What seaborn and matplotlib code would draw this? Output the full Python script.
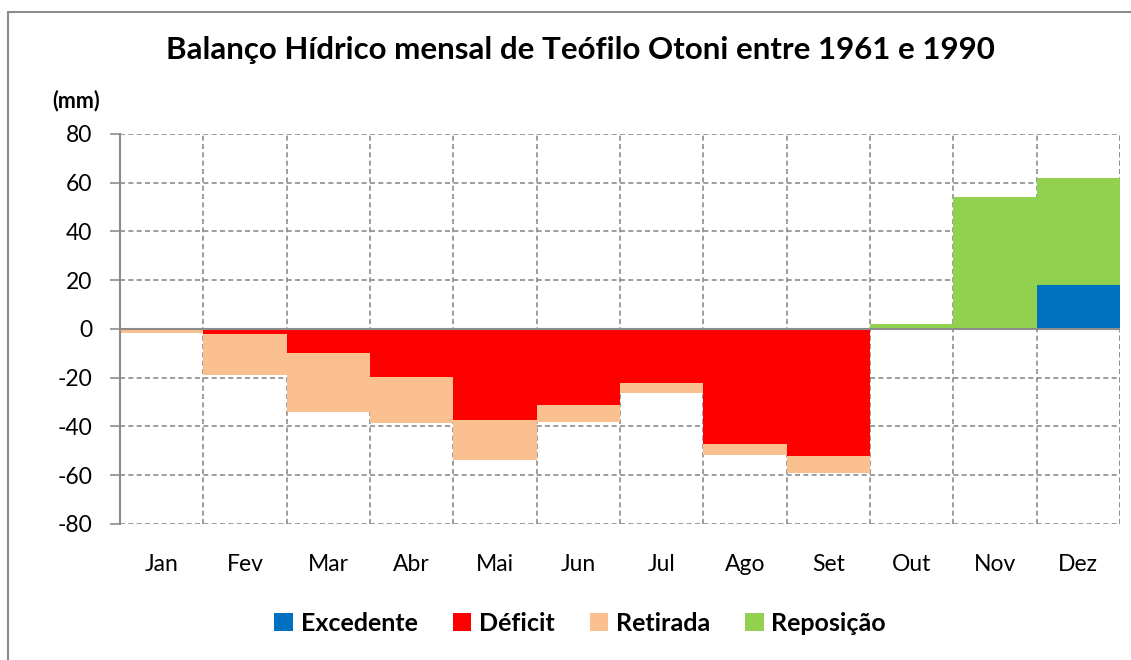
import numpy as np
import pandas as pd
import matplotlib
matplotlib.use("Agg")
import matplotlib.pyplot as plt
import seaborn as sns
from matplotlib.patches import Patch
from matplotlib.lines import Line2D

# Dados do balanço hídrico (mm)
meses = ["Jan", "Fev", "Mar", "Abr", "Mai", "Jun", "Jul", "Ago", "Set", "Out", "Nov", "Dez"]
excedente = [0, 0, 0, 0, 0, 0, 0, 0, 0, 0, 0, 18]
deficit = [-0.3, -2, -10, -19.5, -37.5, -31, -22, -47.3, -52, 0, 0, 0]
retirada = [-1.5, -17, -24, -19, -16.2, -7, -4.2, -4.2, -7, 0, 0, 0]
reposicao = [0, 0, 0, 0, 0, 0, 0, 0, 0, 2, 54, 44]

cores = {"Excedente": "#0070C0", "Déficit": "#FF0000",
         "Retirada": "#FAC090", "Reposição": "#92D050"}

sns.set_style("white")
plt.rcParams["font.family"] = ["Lato", "DejaVu Sans"]
plt.rcParams["axes.unicode_minus"] = False
plt.rcParams["text.color"] = "black"
plt.rcParams["xtick.color"] = "black"
plt.rcParams["ytick.color"] = "black"

df = pd.DataFrame({"mes": meses, "excedente": excedente, "deficit": deficit,
                   "retirada": retirada, "reposicao": reposicao})
df["neg_total"] = df["deficit"] + df["retirada"]
df["pos_total"] = df["excedente"] + df["reposicao"]

fig = plt.figure(figsize=(11.31, 6.6), dpi=100)
ax = fig.add_axes([0.1061, 0.2061, 0.8841, 0.5909])

# barras empilhadas (sobrepostas do total para a parte interna)
bar_kw = dict(width=1, saturation=1, ax=ax, zorder=2, linewidth=0, edgecolor="none")
sns.barplot(data=df, x="mes", y="neg_total", color=cores["Retirada"], **bar_kw)
sns.barplot(data=df, x="mes", y="deficit", color=cores["Déficit"], **bar_kw)
sns.barplot(data=df, x="mes", y="pos_total", color=cores["Reposição"], **bar_kw)
sns.barplot(data=df, x="mes", y="excedente", color=cores["Excedente"], **bar_kw)

ax.set_xlim(-0.5, len(meses) - 0.5)
ax.set_ylim(-80, 80)
ax.set_yticks(np.arange(-80, 81, 20))
ax.set_xlabel("")
ax.set_ylabel("")

# grade tracejada
grid_kw = dict(color="#8C8C8C", linestyle=(0, (3, 2)), linewidth=1.2, zorder=1)
for y in np.arange(-80, 81, 20):
    ax.axhline(y, **grid_kw)
for x in np.arange(0.5, len(meses), 1):
    ax.axvline(x, **grid_kw)
ax.axvline(len(meses) - 0.5, **grid_kw)
ax.axhline(0, color="#8C8C8C", linewidth=1.5, zorder=3)

for s in ["top", "right", "bottom"]:
    ax.spines[s].set_visible(False)
ax.spines["left"].set_color("#8C8C8C")
ax.spines["left"].set_linewidth(1.5)
ax.spines["left"].set_zorder(4)
ax.tick_params(axis="y", left=True, length=7, color="#8C8C8C", width=1.2,
               labelsize=16.5, pad=13, labelcolor="black")
ax.tick_params(axis="x", bottom=False, labelsize=16.5, pad=18, labelcolor="black")

fig.text(0.513, 0.924, "Balanço Hídrico mensal de Teófilo Otoni entre 1961 e 1990",
         ha="center", va="center", fontsize=22.5, fontweight="bold", color="black")
fig.text(0.067, 0.848, "(mm)", ha="center", va="center", fontsize=15.5,
         fontweight="bold", color="black")

handles = [Patch(facecolor=cores[k], edgecolor="none", label=k) for k in cores]
leg = fig.legend(handles=handles, loc="center", bbox_to_anchor=(0.513, 0.056), ncol=4,
                 frameon=False, prop={"size": 18, "weight": "bold"},
                 handlelength=0.75, handleheight=0.75, handletextpad=0.3, columnspacing=1.4)
for t in leg.get_texts():
    t.set_color("black")

# moldura do gráfico
fig.add_artist(Line2D([8 / 1131, 8 / 1131], [0, 1 - 12 / 660], transform=fig.transFigure,
                      color="#8C8C8C", linewidth=1.5))
fig.add_artist(Line2D([8 / 1131, 1], [1 - 12 / 660, 1 - 12 / 660], transform=fig.transFigure,
                      color="#8C8C8C", linewidth=1.5))

fig.savefig("out.png", dpi=100)
